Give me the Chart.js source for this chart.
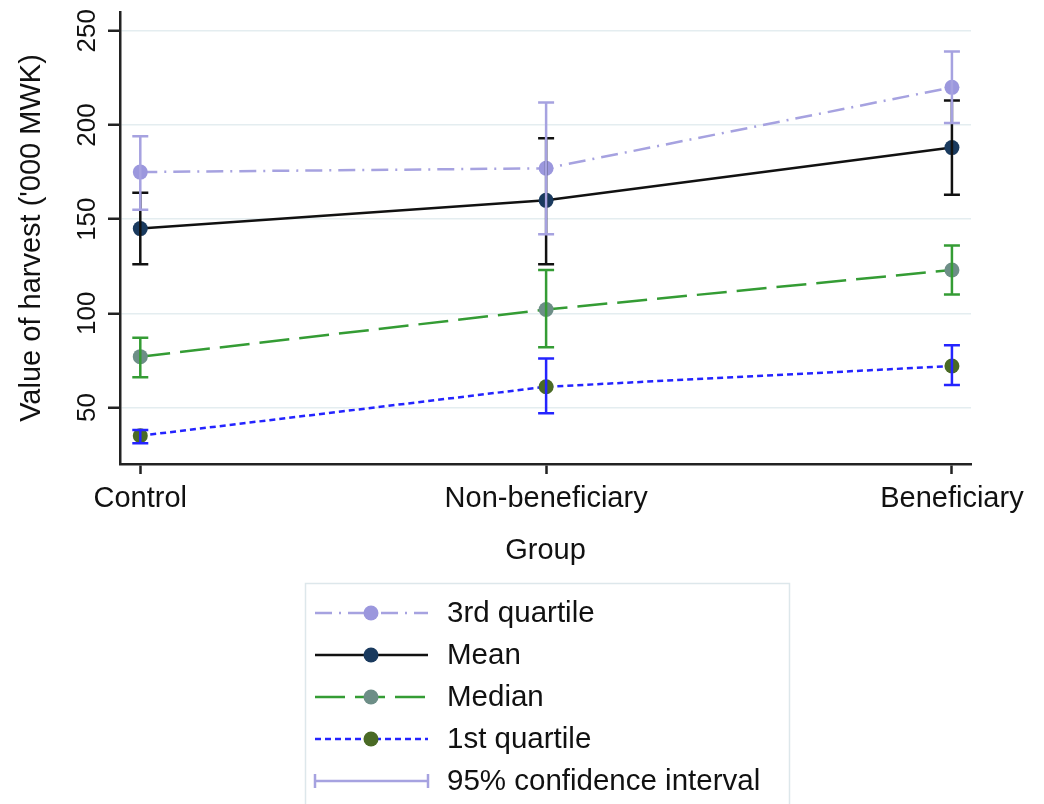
<!DOCTYPE html>
<html><head><meta charset="utf-8">
<script src="https://cdn.jsdelivr.net/npm/chart.js@4.4.0/dist/chart.umd.min.js"></script>
<style>html,body{margin:0;padding:0;background:#fff;}canvas{display:block;}</style>
</head><body>
<canvas id="c" width="1044" height="804"></canvas>
<script>
// ---- data ----
const categories = ['Control', 'Non-beneficiary', 'Beneficiary'];
const q3 = [175, 177, 220];
const q3Lo = [155, 142, 201];
const q3Hi = [194, 212, 239];
const mean = [145, 160, 188];
const meanLo = [126, 126, 163];
const meanHi = [164, 193, 213];
const median = [77, 102, 123];
const medianLo = [66, 82, 110];
const medianHi = [87, 123, 136];
const q1 = [35, 61, 72];
const q1Lo = [31, 47, 62];
const q1Hi = [38, 76, 83];
const yTicks = [50, 100, 150, 200, 250];
const seriesNames = ['3rd quartile', 'Mean', 'Median', '1st quartile'];
const ciLabel = '95% confidence interval';
const xTitle = 'Group';
const yTitle = "Value of harvest ('000 MWK)";

const FONT = "'Liberation Sans', Arial, sans-serif";
const TEXT = '#111111';
const AXIS = '#222222';

function pts(arr) { return arr.map((v, i) => ({ x: i, y: v })); }

const styles = [
  { line: '#a6a2e0', point: '#9b97dd', ci: '#a6a2e0', dash: [17, 7, 2, 7] },
  { line: '#111111', point: '#1a3a5e', ci: '#111111', dash: [] },
  { line: '#349c34', point: '#6d8e87', ci: '#349c34', dash: [30, 10] },
  { line: '#2424ff', point: '#4a6a25', ci: '#2424ff', dash: [6, 4] }
];
const values = [q3, mean, median, q1];
const lows = [q3Lo, meanLo, medianLo, q1Lo];
const highs = [q3Hi, meanHi, medianHi, q1Hi];

const datasets = values.map((v, k) => ({
  label: seriesNames[k],
  data: pts(v),
  borderColor: styles[k].line,
  borderDash: styles[k].dash,
  borderWidth: 2.5,
  pointRadius: 7.5,
  pointHoverRadius: 7.5,
  pointBorderWidth: 0,
  pointBackgroundColor: styles[k].point,
  tension: 0,
  fill: false,
  ciLo: lows[k],
  ciHi: highs[k],
  ciColor: styles[k].ci
}));

const ciPlugin = {
  id: 'ci',
  afterDatasetsDraw(chart) {
    const ctx = chart.ctx, xs = chart.scales.x, ys = chart.scales.y;
    const order = [1, 2, 3, 0];
    ctx.save();
    ctx.lineWidth = 2.5;
    ctx.setLineDash([]);
    order.forEach(k => {
      const ds = chart.data.datasets[k];
      ctx.strokeStyle = ds.ciColor;
      ds.ciLo.forEach((lo, i) => {
        const x = xs.getPixelForValue(i);
        const yl = ys.getPixelForValue(lo), yh = ys.getPixelForValue(ds.ciHi[i]);
        ctx.beginPath();
        ctx.moveTo(x, yl); ctx.lineTo(x, yh);
        ctx.moveTo(x - 8, yl); ctx.lineTo(x + 8, yl);
        ctx.moveTo(x - 8, yh); ctx.lineTo(x + 8, yh);
        ctx.stroke();
      });
    });
    ctx.restore();
  }
};

const textPlugin = {
  id: 'texts',
  afterDraw(chart) {
    const ctx = chart.ctx, ys = chart.scales.y, area = chart.chartArea;
    ctx.save();
    ctx.fillStyle = TEXT;
    // y tick labels (rotated)
    ctx.font = '26px ' + FONT;
    ctx.textAlign = 'center';
    ctx.textBaseline = 'alphabetic';
    yTicks.forEach(t => {
      const y = ys.getPixelForValue(t);
      ctx.save();
      ctx.translate(95, y);
      ctx.rotate(-Math.PI / 2);
      ctx.fillText(String(t), 0, 0);
      ctx.restore();
    });
    // y title
    ctx.font = '29px ' + FONT;
    ctx.save();
    ctx.translate(40, (area.top + area.bottom) / 2);
    ctx.rotate(-Math.PI / 2);
    ctx.fillText(yTitle, 0, 0);
    ctx.restore();

    // legend
    const lx = 305, ly = 583, lw = 484;
    ctx.strokeStyle = '#dde7eb';
    ctx.lineWidth = 1.5;
    ctx.strokeRect(lx + 0.5, ly + 0.5, lw, 260);
    const rows = [613, 655, 697, 739, 781];
    const x0 = 315, x1 = 428, xm = 371;
    ctx.font = '29.5px ' + FONT;
    ctx.textAlign = 'left';
    ctx.textBaseline = 'middle';
    chart.data.datasets.forEach((ds, k) => {
      const y = rows[k];
      ctx.strokeStyle = ds.borderColor;
      ctx.lineWidth = 2.5;
      ctx.setLineDash(ds.borderDash);
      ctx.beginPath(); ctx.moveTo(x0, y); ctx.lineTo(x1, y); ctx.stroke();
      ctx.setLineDash([]);
      ctx.fillStyle = ds.pointBackgroundColor;
      ctx.beginPath(); ctx.arc(xm, y, 7.5, 0, Math.PI * 2); ctx.fill();
      ctx.fillStyle = TEXT;
      ctx.fillText(ds.label, 447, y + 1);
    });
    const yc = rows[4];
    ctx.strokeStyle = chart.data.datasets[0].ciColor;
    ctx.lineWidth = 2.5;
    ctx.beginPath();
    ctx.moveTo(x0, yc); ctx.lineTo(x1, yc);
    ctx.moveTo(x0, yc - 7); ctx.lineTo(x0, yc + 7);
    ctx.moveTo(x1, yc - 7); ctx.lineTo(x1, yc + 7);
    ctx.stroke();
    ctx.fillStyle = TEXT;
    ctx.fillText(ciLabel, 447, yc + 1);
    ctx.restore();
  }
};

new Chart(document.getElementById('c'), {
  type: 'line',
  data: { datasets },
  options: {
    responsive: false,
    animation: false,
    events: [],
    layout: { padding: { top: 12, right: 73, bottom: 224, left: 0 } },
    plugins: { legend: { display: false }, tooltip: { enabled: false } },
    scales: {
      x: {
        type: 'linear',
        min: -0.05,
        max: 2.047,
        afterBuildTicks(s) { s.ticks = categories.map((c, i) => ({ value: i })); },
        afterFit(s) { s.height = 116; s.paddingLeft = 0; s.paddingRight = 0; },
        ticks: {
          autoSkip: false,
          maxRotation: 0,
          minRotation: 0,
          padding: 8,
          color: TEXT,
          font: { family: FONT, size: 29 },
          callback: v => categories[v]
        },
        grid: { drawOnChartArea: false, drawTicks: true, tickLength: 10, tickColor: AXIS, tickWidth: 2.5 },
        border: { display: true, color: AXIS, width: 2.5 },
        title: { display: true, text: xTitle, color: TEXT, font: { family: FONT, size: 29 }, padding: { top: 0, bottom: 12 } }
      },
      y: {
        type: 'linear',
        min: 20,
        max: 260,
        afterBuildTicks(s) { s.ticks = yTicks.map(v => ({ value: v })); },
        afterFit(s) { s.width = 120; s.paddingTop = 0; s.paddingBottom = 0; },
        ticks: { display: false },
        grid: { color: '#e4edf0', lineWidth: 1.5, drawTicks: true, tickLength: 12, tickColor: AXIS, tickWidth: 2.5 },
        border: { display: true, color: AXIS, width: 2.5 }
      }
    }
  },
  plugins: [ciPlugin, textPlugin]
});
</script>
</body></html>
